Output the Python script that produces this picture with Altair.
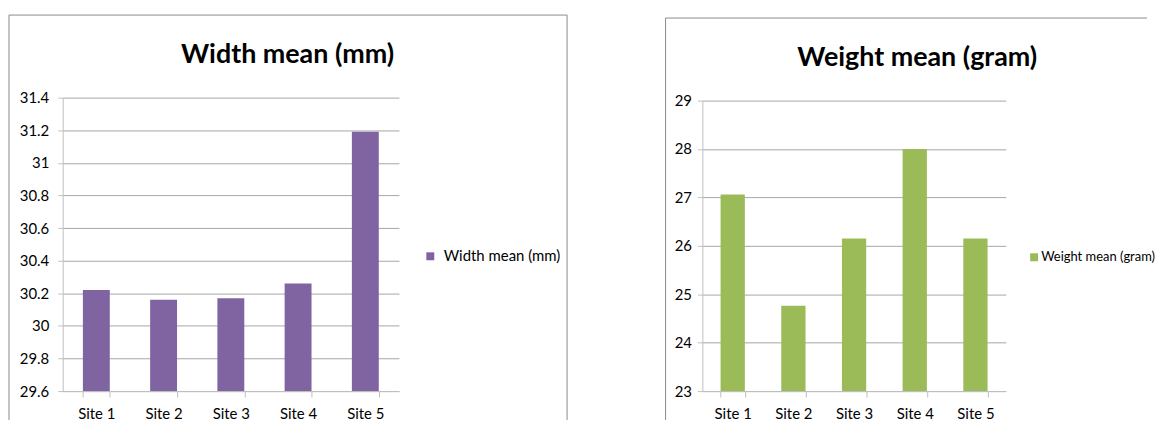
import altair as alt
import pandas as pd

sites = ["Site 1", "Site 2", "Site 3", "Site 4", "Site 5"]
width_mean = [30.22, 30.16, 30.17, 30.26, 31.19]
weight_mean = [27.06, 24.76, 26.15, 28.0, 26.15]
width_ticks = [29.6, 29.8, 30, 30.2, 30.4, 30.6, 30.8, 31, 31.2, 31.4]
weight_ticks = [23, 24, 25, 26, 27, 28, 29]
width_name = "Width mean (mm)"
weight_name = "Weight mean (gram)"

FONT = "Lato, Carlito, Roboto, sans-serif"
GRID = "#A6A6A6"
AXIS = "#BFBFBF"
BORDER = "#8A8A8A"


def panel(values, ticks, name, color, w, h, top, leg_x, leg_y, leg_align, leg_off,
          title_x, title_y, ypad, legsize, border):
    df = pd.DataFrame({"site": sites, "value": values, "series": [name] * len(sites)})
    bars = alt.Chart(df).mark_bar(color=color).encode(
        x=alt.X("site:N", sort=sites, title=None,
                scale=alt.Scale(paddingInner=0.6, paddingOuter=0.3),
                axis=alt.Axis(labelAngle=0, tickBand="extent", ticks=True, tickSize=6,
                              tickColor=AXIS, domainColor=AXIS, labelFont=FONT,
                              labelFontSize=15, labelColor="#000000", labelPadding=10,
                              grid=False)),
        y=alt.Y("value:Q", title=None,
                scale=alt.Scale(domain=[ticks[0], ticks[-1]], zero=False, nice=False,
                                range=[h, top]),
                axis=alt.Axis(values=ticks, format="~g", tickSize=5, tickColor=AXIS,
                              domainColor=AXIS, grid=True, gridColor=GRID,
                              labelFont=FONT, labelFontSize=15, labelColor="#000000",
                              labelPadding=ypad)),
        y2=alt.datum(ticks[0]),
        color=alt.Color("series:N",
                        scale=alt.Scale(domain=[name], range=[color]),
                        legend=alt.Legend(title=None, orient="none", legendX=leg_x,
                                          legendY=leg_y, symbolType="square",
                                          symbolSize=64, symbolStrokeWidth=0,
                                          labelFont=FONT, labelFontSize=legsize,
                                          labelColor="#000000", labelOffset=leg_off,
                                          labelAlign=leg_align, labelLimit=300)),
    )
    title = alt.Chart(alt.Data(values=[{"t": name}])).mark_text(
        font=FONT, fontSize=27, fontWeight="bold", color="#000000",
        align="center", baseline="alphabetic"
    ).encode(x=alt.value(title_x), y=alt.value(title_y), text="t:N")
    layers = [bars, title]
    one = alt.Data(values=[{"k": 1}])
    for (x1, y1, x2, y2) in border:
        layers.append(
            alt.Chart(one).mark_rule(color=BORDER, strokeWidth=1).encode(
                x=alt.value(x1), x2=alt.value(x2), y=alt.value(y1), y2=alt.value(y2)
            )
        )
    return alt.layer(*layers).properties(width=w, height=h)


left = panel(width_mean, width_ticks, width_name, "#8064A2", 338, 295, 0,
             362, 152, "left", 6, 226, -35, 9, 15,
             [(-54, -83, -54, 324), (-54, -83, 507, -83), (507, -83, 507, 324)])
right = panel(weight_mean, weight_ticks, weight_name, "#9BBB59", 305, 295, 3,
              327, 154, "right", 115, 216, -32, 6, 13,
              [(-37, -80, -37, 324), (-37, -80, 447, -80)])

chart = alt.hconcat(left, right, spacing=97).resolve_scale(
    color="independent", x="independent", y="independent"
).resolve_legend(color="independent").properties(
    padding={"left": 0, "top": 5, "right": 0, "bottom": 0}
).configure_view(stroke=None)

chart.save("out.html", embed_options={"renderer": "svg", "actions": False})
